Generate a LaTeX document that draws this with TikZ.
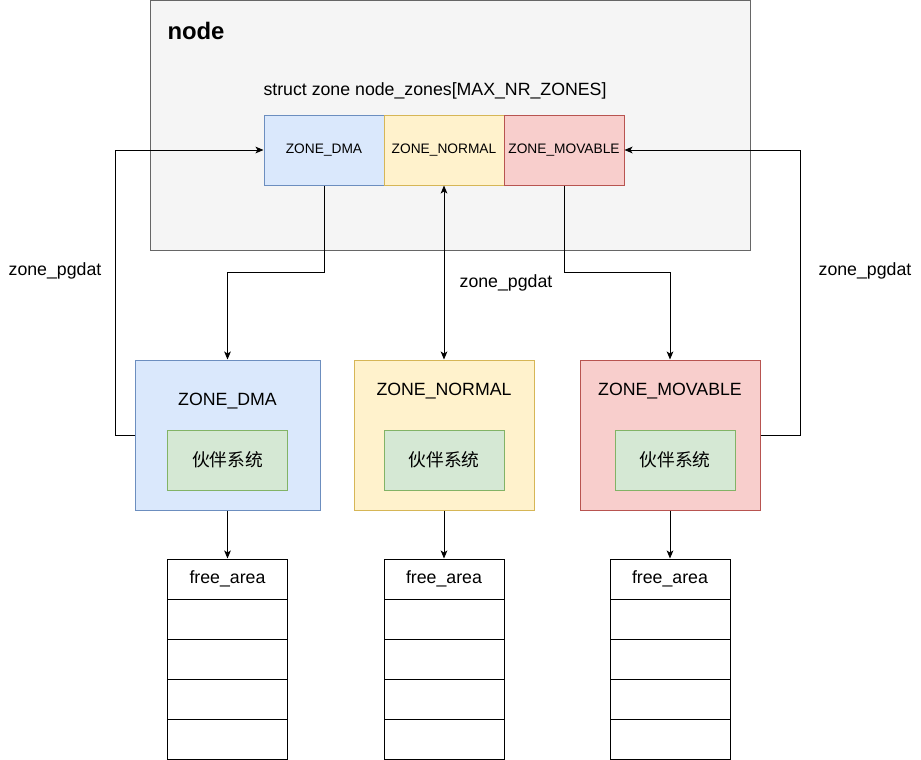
\documentclass[tikz,border=0pt]{standalone}
\usepackage{fontspec}
\setmainfont{Liberation Sans}
\newfontfamily\cjkfont{Noto Sans CJK SC}
\usetikzlibrary{arrows.meta,positioning}

\definecolor{nodefill}{HTML}{F5F5F5}
\definecolor{nodeline}{HTML}{666666}
\definecolor{dmafill}{HTML}{DAE8FC}
\definecolor{dmaline}{HTML}{6C8EBF}
\definecolor{normalfill}{HTML}{FFF2CC}
\definecolor{normalline}{HTML}{D6B656}
\definecolor{movfill}{HTML}{F8CECC}
\definecolor{movline}{HTML}{B85450}
\definecolor{buddyfill}{HTML}{D5E8D4}
\definecolor{buddyline}{HTML}{82B366}

\begin{document}
\begin{tikzpicture}[
    x=0.75pt, y=-0.75pt,
    font=\fontsize{13.3}{16}\selectfont,
    >={Stealth[length=6pt,width=5pt,inset=1.5pt]},
    line width=0.75pt,
    nodebox/.style={draw=nodeline, fill=nodefill, minimum width=450pt, minimum height=187.5pt, inner sep=0pt},
    cellbox/.style={draw, minimum width=90pt, minimum height=52.5pt, inner sep=0pt, font=\fontsize{10.3}{12}\selectfont},
    zonebox/.style={draw, minimum width=135pt, minimum height=112.5pt, inner sep=0pt},
    buddybox/.style={draw=buddyline, fill=buddyfill, minimum width=90pt, minimum height=45pt, inner sep=0pt, font=\cjkfont\fontsize{13.3}{16}\selectfont},
    areabox/.style={draw, fill=white, minimum width=90pt, minimum height=30pt, inner sep=0pt}
]
    \useasboundingbox (0,0) rectangle (921,760);

    % pg_data_t
    \node[nodebox] (nodearea) at (450,125) {};
    \node[anchor=west, inner sep=0pt, font=\bfseries\fontsize{17.9}{20}\selectfont] (nodetitle) at (167,31) {node};
    \node (structlabel) at (435,91) {struct zone node\_zones[MAX\_NR\_ZONES]};

    \node[cellbox, draw=dmaline, fill=dmafill] (cdma) at (324,150) {ZONE\_DMA};
    \node[cellbox, draw=normalline, fill=normalfill] (cnormal) at (444,150) {ZONE\_NORMAL};
    \node[cellbox, draw=movline, fill=movfill] (cmovable) at (564,150) {ZONE\_MOVABLE};

    % zones
    \node[zonebox, draw=dmaline, fill=dmafill, minimum width=138.75pt] (zdma) at (227.5,435) {};
    \node[zonebox, draw=normalline, fill=normalfill] (znormal) at (444,435) {};
    \node[zonebox, draw=movline, fill=movfill] (zmovable) at (670,435) {};

    \node (ldma) at (227.5,401) {ZONE\_DMA};
    \node (lnormal) at (444,391) {ZONE\_NORMAL};
    \node (lmovable) at (670,391) {ZONE\_MOVABLE};

    \node[buddybox] (bdma) at (227.5,460) {伙伴系统};
    \node[buddybox] (bnormal) at (444,460) {伙伴系统};
    \node[buddybox] (bmovable) at (675,460) {伙伴系统};

    % free_area arrays
    \foreach \col/\cx in {dma/227.5, normal/444, movable/670} {
        \node[areabox] (\col-1) at (\cx,579) {free\_area};
        \foreach \r in {2,...,5}
            \node[areabox] (\col-\r) at (\cx,{539+40*\r}) {};
    }

    % connectors
    \coordinate (dmabend) at (324,272);
    \coordinate (movbend) at (564,272);
    \coordinate (leftrail) at (115,435);
    \coordinate (rightrail) at (800,435);

    \draw[->] (cdma.south) -- (dmabend) -| (zdma.north);
    \draw[<->] (cnormal.south) -- (znormal.north);
    \draw[->] (cmovable.south) -- (movbend) -| (zmovable.north);
    \draw[->] (zdma.west) -- (leftrail) |- (cdma.west);
    \draw[->] (zmovable.east) -- (rightrail) |- (cmovable.east);

    \draw[->] (zdma.south) -- (dma-1.north);
    \draw[->] (znormal.south) -- (normal-1.north);
    \draw[->] (zmovable.south) -- (movable-1.north);

    \node (pgleft) at (55,271) {zone\_pgdat};
    \node (pgmid) at (506,283) {zone\_pgdat};
    \node (pgright) at (865,271) {zone\_pgdat};

\end{tikzpicture}
\end{document}
